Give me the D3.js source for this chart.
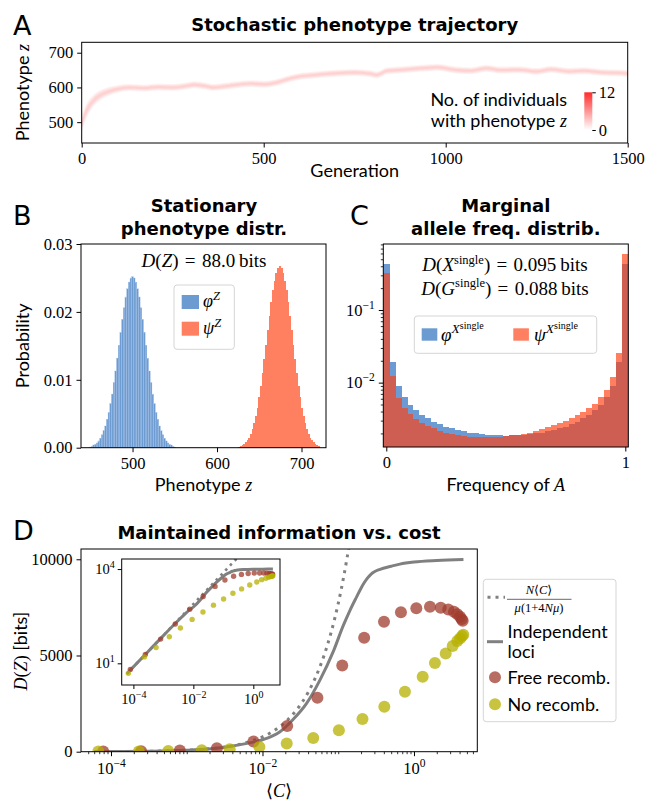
<!DOCTYPE html>
<html><head><meta charset="utf-8">
<script src="https://cdn.jsdelivr.net/npm/d3@7"></script>
<style>html,body{margin:0;padding:0;background:#fff;}</style>
</head><body>
<svg id="fig" width="647" height="802" xmlns="http://www.w3.org/2000/svg"></svg>
<script>
// ---------------- DATA ----------------
// Panel A: stochastic trajectory (centre of the density band)
const trajGen = [0,10,20,35,50,70,100,130,170,210,250,280,310,340,360,390,420,460,500,530,560,590,620,660,700,750,790,810,840,880,930,975,1000,1030,1070,1110,1150,1200,1250,1290,1340,1380,1430,1470,1500];
const trajZ   = [495,525,545,565,577,587,596,600,598,601,600,603,608,604,600,603,607,611,609,613,622,630,634,638,641,643,640,636,648,651,655,658,655,650,648,655,650,651,646,652,646,648,643,642,640];
const trajHalf= [24,22,20,17,15,13,11,10,10,10,10,10,10,10,10,10,10,10,10,10,10,10,10,10,10,10,10,10,10,10,10,10,10,10,10,10,10,10,10,10,10,10,10,10,10];
const genTicks = [0,500,1000,1500];
const phenoTicksA = [500,600,700];
const cbarTicks = [0,12];

// Panel B: stationary phenotype distributions (bins of width 2)
const phiZStart = 450;
const phiZ = [0.0001,0.0002,0.0004,0.0005,0.0007,0.0010,0.0014,0.0019,0.0025,0.0032,0.0042,0.0052,0.0065,0.0079,0.0096,0.0113,0.0132,0.0151,0.0170,0.0189,0.0206,0.0222,0.0234,0.0244,0.0250,0.0252,0.0250,0.0244,0.0234,0.0222,0.0206,0.0189,0.0170,0.0151,0.0132,0.0113,0.0096,0.0079,0.0065,0.0052,0.0042,0.0032,0.0025,0.0019,0.0014,0.0010,0.0007,0.0005,0.0004,0.0002,0.0001];
const psiZStart = 626;
const psiZ = [0.0001,0.0002,0.0004,0.0005,0.0008,0.0011,0.0015,0.0020,0.0027,0.0036,0.0047,0.0059,0.0074,0.0091,0.0110,0.0130,0.0151,0.0173,0.0194,0.0214,0.0232,0.0246,0.0258,0.0265,0.0267,0.0265,0.0258,0.0246,0.0232,0.0214,0.0194,0.0173,0.0151,0.0130,0.0110,0.0091,0.0074,0.0059,0.0047,0.0036,0.0027,0.0020,0.0015,0.0011,0.0008,0.0005,0.0004,0.0002];
const probTicks = [0,0.01,0.02,0.03];
const phenoTicksB = [500,600,700];

// Panel C: marginal allele frequency distributions (41 bins at k/40)
const phiX = [0.43,0.0195,0.0090,0.0064,0.0050,0.0042,0.0036,0.00324,0.00291,0.00268,0.00248,0.00236,0.00224,0.00214,0.00205,0.00201,0.00197,0.00193,0.0019,0.00188,0.00187,0.00188,0.0019,0.00193,0.00197,0.00201,0.00205,0.00214,0.00224,0.00236,0.00248,0.00268,0.00291,0.00324,0.0036,0.0042,0.0050,0.0064,0.0090,0.0195,0.43];
const psiX = [0.32,0.0124,0.0061,0.00445,0.00371,0.00313,0.00276,0.00254,0.00236,0.00219,0.00205,0.00197,0.00189,0.00185,0.00181,0.00179,0.00177,0.00177,0.00179,0.00181,0.00185,0.00189,0.00193,0.00197,0.00205,0.00216,0.00229,0.00243,0.00259,0.00276,0.00301,0.0033,0.0036,0.0040,0.00445,0.0051,0.0063,0.0079,0.0119,0.0259,0.59];
const freqTicks = [0,1];
const logTicksC = [0.01,0.1];

// Panel D: maintained information vs cost
const dottedC = [6e-5,1e-4,3e-4,1e-3,3e-3,0.006,0.01,0.015,0.02,0.03,0.04,0.05,0.07,0.09,0.11,0.13,0.15,0.2,0.3];
const dottedD = [4.6,7.7,23,77,231,462,770,1155,1540,2310,3080,3850,5390,6930,8470,10010,11550,15400,23100];
const indepC = [6.3e-5,1e-4,3e-4,1e-3,3e-3,6e-3,0.01,0.017,0.025,0.0382,0.0573,0.0859,0.1164,0.143,0.175,0.2,0.22,0.24,0.27,0.3,0.356,0.5,0.65,1.0,2.0,4.5];
const indepD = [4.9,7.7,23,76,222,420,620,1040,1650,2510,3720,5200,6550,7350,8050,8500,8780,9000,9220,9350,9480,9640,9750,9860,9940,9990];
const freeC = [7.9e-5,2.5e-4,8.1e-4,2.5e-3,7.6e-3,0.0212,0.0531,0.113,0.220,0.402,0.673,1.074,1.626,2.254,2.838,3.373,3.733,4.055,4.266,4.395];
const freeD = [6.4,19,59,178,530,1334,2804,4486,5919,6760,7253,7461,7529,7477,7394,7269,7150,7010,6890,6802];
const noC = [6.8e-5,2.33e-4,5.7e-4,1.58e-3,3.69e-3,9.1e-3,0.0209,0.0468,0.102,0.209,0.406,0.760,1.303,1.892,2.624,3.243,3.733,4.055,4.305,4.477];
const noD = [4.8,16,32,70,133,250,430,711,1111,1700,2336,3115,3894,4605,5109,5488,5748,5888,6007,6075];
const infoTicks = [0,5000,10000];
const costTicks = [1e-4,1e-2,1];
const insetYTicks = [10,1e4];

// ---------------- STYLE ----------------
const SERIF = "'Liberation Serif','DejaVu Serif',serif";
const SANS = "Lato,'DejaVu Sans',sans-serif";
const BOLD = "'DejaVu Sans',sans-serif";
const BLUE = "#6c9bd2", RED = "#ff4013", RED_OP = 0.67, SALMON = "#ff7f61", GRAY = "#808080";
const BROWN = "rgb(160,60,45)", YELLOW = "rgb(181,176,0)", DOT_OP = 0.75;
const EQ = "\u2004=\u2004";

const svg = d3.select("#fig");
svg.append("rect").attr("width",647).attr("height",802).attr("fill","#fff");
const defs = svg.append("defs");

function rich(parent, x, y, segs, o={}){
  const t = parent.append("text").attr("fill","#000").attr("text-anchor", o.anchor||"start");
  if(o.transform){ t.attr("transform",o.transform); } else { t.attr("x",x).attr("y",y); }
  let cur = 0;
  for(const s of segs){
    const [str,f,size,sh] = s;
    const sp = t.append("tspan").text(str).attr("font-size",size);
    sp.attr("font-family", f==="s"?SANS:(f==="b"?BOLD:SERIF));
    if(f==="i") sp.attr("font-style","italic");
    if(f==="b") sp.attr("font-weight","bold");
    const target = sh||0;
    if(target!==cur){ sp.attr("dy", target-cur); cur = target; }
  }
  return t;
}
function frame(g, x0,y0,x1,y1){
  g.append("rect").attr("x",x0).attr("y",y0).attr("width",x1-x0).attr("height",y1-y0)
   .attr("fill","none").attr("stroke","#000").attr("stroke-width",1);
}
function clip(id,x0,y0,x1,y1){
  defs.append("clipPath").attr("id",id).append("rect").attr("x",x0).attr("y",y0).attr("width",x1-x0).attr("height",y1-y0);
  return "url(#"+id+")";
}
const SUPM = "\u2212";
function axis(g, orient, scale, vals, o){
  const gen = {left:d3.axisLeft,bottom:d3.axisBottom,right:d3.axisRight}[orient];
  const ax = gen(scale).tickValues(vals).tickSizeOuter(0).tickSize(o.len==null?4.5:o.len).tickPadding(o.pad==null?4:o.pad)
    .tickFormat(o.fmt || (()=>""));
  const a = g.append("g").attr("transform", orient==="bottom" ? `translate(0,${o.at})` : `translate(${o.at},0)`).call(ax);
  a.select(".domain").remove();
  a.selectAll("line").attr("stroke","#000").attr("stroke-width",o.sw||1);
  a.selectAll("text").attr("font-family",SERIF).attr("font-size",o.fs||16.5).attr("fill","#000");
  if(o.sup){
    a.selectAll("text").each(function(d){
      const t = d3.select(this); t.text(null);
      t.append("tspan").text("10");
      const e = Math.round(Math.log10(d));
      t.append("tspan").attr("dy",o.supdy||-7).attr("font-size",o.supfs||11.5).text(e<0?SUPM+(-e):String(e));
    });
  }
  return a;
}
function minorLog(lo,hi){
  const out=[];
  for(let k=-6;k<=2;k++) for(let m=1;m<=9;m++){ const v=m*Math.pow(10,k); if(v>=lo && v<=hi) out.push(v); }
  return out;
}
function boldTitle(g,x,y,txt){
  g.append("text").attr("x",x).attr("y",y).attr("text-anchor","middle").attr("font-family",BOLD)
   .attr("font-weight","bold").attr("font-size",18).text(txt);
}
function panelLetter(g,x,y,txt){
  g.append("text").attr("x",x).attr("y",y).attr("font-family",BOLD).attr("font-size",27).text(txt);
}

// ================= PANEL A =================
const gA = svg.append("g");
const xA = d3.scaleLinear().domain([0,1500]).range([81.7,627.7]);
const yA = d3.scaleLinear().domain([440,730]).range([143,42.3]);
const clipA = clip("clipA",81.7,42.3,627.7,143);
const trajData = trajGen.map((g,i)=>({g, z:trajZ[i], h:trajHalf[i]}));
const bandG = gA.append("g").attr("clip-path",clipA);
[1.0,0.75,0.5,0.28].forEach(f=>{
  bandG.append("path").datum(trajData)
    .attr("d", d3.area().x(d=>xA(d.g)).y0(d=>yA(d.z-d.h*f)).y1(d=>yA(d.z+d.h*f)).curve(d3.curveMonotoneX))
    .attr("fill","#ff3a3a").attr("fill-opacity",0.06);
});
axis(gA,"left",yA,phenoTicksA,{at:81.7,fmt:d3.format("d")});
axis(gA,"bottom",xA,genTicks,{at:143,fmt:d3.format("d"),pad:5});
frame(gA,81.7,42.3,627.7,143);
panelLetter(gA,13,35,"A");
boldTitle(gA,354.7,31,"Stochastic phenotype trajectory");
rich(gA,0,0,[["Phenotype ","s",18],["z","i",18]],{anchor:"middle",transform:"translate(29,92.6) rotate(-90)"});
rich(gA,354.7,177,[["Generation","s",18]],{anchor:"middle"});
// colorbar
const grad = defs.append("linearGradient").attr("id","cbGrad").attr("x1",0).attr("y1",1).attr("x2",0).attr("y2",0);
grad.append("stop").attr("offset","0%").attr("stop-color","#ffffff");
grad.append("stop").attr("offset","100%").attr("stop-color","#ff2b2b");
const cbY = d3.scaleLinear().domain([0,12]).range([130,92.3]);
gA.append("rect").attr("x",584.3).attr("y",92.3).attr("width",8).attr("height",130-92.3).attr("fill","url(#cbGrad)");
axis(gA,"right",cbY,cbarTicks,{at:592.3,fmt:d3.format("d"),len:3.5,pad:3,fs:16.5});
rich(gA,567,106,[["No. of individuals","s",18]],{anchor:"end"});
rich(gA,567,127,[["with phenotype ","s",18],["z","i",18]],{anchor:"end"});

// ================= PANEL B =================
const gB = svg.append("g");
const xB = d3.scaleLinear().domain([439,729]).range([81,326]);
const yB = d3.scaleLinear().domain([0,0.03]).range([447.7,244]);
const phiZData = phiZ.map((v,i)=>({z:phiZStart+2*i, v}));
const psiZData = psiZ.map((v,i)=>({z:psiZStart+2*i, v}));
gB.append("g").selectAll("rect").data(phiZData).join("rect")
  .attr("x",d=>xB(d.z-1)).attr("width",d=>xB(d.z+1)-xB(d.z-1)).attr("y",d=>yB(d.v)).attr("height",d=>yB(0)-yB(d.v))
  .attr("fill",BLUE).attr("stroke","#a9c4e6").attr("stroke-width",0.3);
gB.append("g").attr("shape-rendering","crispEdges").selectAll("rect").data(psiZData).join("rect")
  .attr("x",d=>xB(d.z-1)).attr("width",d=>xB(d.z+1)-xB(d.z-1)+0.6).attr("y",d=>yB(d.v)).attr("height",d=>yB(0)-yB(d.v))
  .attr("fill",SALMON);
axis(gB,"left",yB,probTicks,{at:81,fmt:d3.format(".2f")});
axis(gB,"bottom",xB,phenoTicksB,{at:447.7,fmt:d3.format("d"),pad:5});
frame(gB,81,244,326,447.7);
panelLetter(gB,13,225,"B");
boldTitle(gB,204,211.5,"Stationary");
boldTitle(gB,204,235,"phenotype distr.");
rich(gB,0,0,[["Probability","s",18]],{anchor:"middle",transform:"translate(29,345.8) rotate(-90)"});
rich(gB,203.5,491,[["Phenotype ","s",18],["z","i",18]],{anchor:"middle"});
rich(gB,204,267,[["D","i",19],["(","r",19],["Z","i",19],[")"+EQ+"88.0\u2009bits","r",19]],{anchor:"middle"});
// legend B
gB.append("rect").attr("x",174).attr("y",285).attr("width",60.3).attr("height",64.3).attr("rx",3)
  .attr("fill","#fff").attr("fill-opacity",0.8).attr("stroke","#d5d5d5").attr("stroke-width",1);
gB.append("rect").attr("x",181.7).attr("y",295).attr("width",17.3).attr("height",14).attr("fill",BLUE);
gB.append("rect").attr("x",181.7).attr("y",321.7).attr("width",17.3).attr("height",14).attr("fill",SALMON);
rich(gB,203,307,[["\u03C6","i",18],["Z","i",12.5,-7]]);
rich(gB,203,333.5,[["\u03C8","i",18],["Z","i",12.5,-7]]);

// ================= PANEL C =================
const gC = svg.append("g");
const xC = d3.scaleLinear().domain([-0.0125,1.0125]).range([383.3,628.3]);
const yC = d3.scaleLog().domain([0.0013,0.81]).range([447,244]);
const clipC = clip("clipC",383.3,244,628.3,447);
const binsC = d3.range(41).map(k=>k/40);
const phiXData = binsC.map((c,i)=>({c, v:phiX[i]}));
const psiXData = binsC.map((c,i)=>({c, v:psiX[i]}));
const barsC = gC.append("g").attr("clip-path",clipC);
barsC.append("g").attr("shape-rendering","crispEdges").selectAll("rect").data(phiXData).join("rect")
  .attr("x",d=>xC(d.c-0.0125)).attr("width",d=>xC(d.c+0.0125)-xC(d.c-0.0125)+0.3).attr("y",d=>yC(d.v)).attr("height",d=>447-yC(d.v))
  .attr("fill",BLUE);
barsC.append("g").attr("opacity",RED_OP).attr("shape-rendering","crispEdges").selectAll("rect").data(psiXData).join("rect")
  .attr("x",d=>xC(d.c-0.0125)).attr("width",d=>xC(d.c+0.0125)-xC(d.c-0.0125)+0.3).attr("y",d=>yC(d.v)).attr("height",d=>447-yC(d.v))
  .attr("fill",RED);
axis(gC,"left",yC,minorLog(0.0013,0.81).filter(v=>!logTicksC.includes(v)),{at:383.3,len:2.5,sw:0.8});
axis(gC,"left",yC,logTicksC,{at:383.3,sup:true,pad:4});
axis(gC,"bottom",xC,freqTicks,{at:447,fmt:d3.format("d"),pad:5});
frame(gC,383.3,244,628.3,447);
panelLetter(gC,350,225,"C");
boldTitle(gC,505.8,211.5,"Marginal");
boldTitle(gC,505.8,235,"allele freq. distrib.");
rich(gC,505.8,491,[["Frequency of ","s",18],["A","i",18]],{anchor:"middle"});
rich(gC,505,271,[["D","i",19],["(","r",19],["X","i",19],["single","r",12.5,-7.5],[")"+EQ+"0.095\u2009bits","r",19,0]],{anchor:"middle"});
rich(gC,505,294.5,[["D","i",19],["(","r",19],["G","i",19],["single","r",12.5,-7.5],[")"+EQ+"0.088\u2009bits","r",19,0]],{anchor:"middle"});
// legend C
gC.append("rect").attr("x",414.3).attr("y",316).attr("width",182.4).attr("height",37.3).attr("rx",3)
  .attr("fill","#fff").attr("fill-opacity",0.8).attr("stroke","#d5d5d5").attr("stroke-width",1);
gC.append("rect").attr("x",421.7).attr("y",328.3).attr("width",15.6).attr("height",12.4).attr("fill",BLUE);
gC.append("rect").attr("x",513.3).attr("y",328.3).attr("width",15.6).attr("height",12.4).attr("fill",SALMON);
rich(gC,441,341,[["\u03C6","i",19],["X","i",13.5,-8],["single","r",10,-12.5]]);
rich(gC,534,341,[["\u03C8","i",19],["X","i",13.5,-8],["single","r",10,-12.5]]);

// ================= PANEL D =================
const gD = svg.append("g");
const xD = d3.scaleLog().domain([Math.pow(10,-4.396),Math.pow(10,0.836)]).range([81,477.3]);
const yD = d3.scaleLinear().domain([0,10535]).range([751.7,549]);
const clipD = clip("clipD",81,549,477.3,751.7);
const dottedData = dottedC.map((c,i)=>({c,d:dottedD[i]}));
const indepData = indepC.map((c,i)=>({c,d:indepD[i]}));
const freeData = freeC.map((c,i)=>({c,d:freeD[i]}));
const noData = noC.map((c,i)=>({c,d:noD[i]}));
const linesD = gD.append("g").attr("clip-path",clipD);
const lineD = d3.line().x(d=>xD(d.c)).y(d=>yD(d.d)).curve(d3.curveMonotoneX);
linesD.append("path").datum(dottedData).attr("d",lineD).attr("fill","none").attr("stroke",GRAY).attr("stroke-width",3).attr("stroke-dasharray","3,5");
linesD.append("path").datum(indepData).attr("d",lineD).attr("fill","none").attr("stroke",GRAY).attr("stroke-width",3);
linesD.append("g").selectAll("circle").data(freeData).join("circle")
  .attr("cx",d=>xD(d.c)).attr("cy",d=>yD(d.d)).attr("r",6).attr("fill",BROWN).attr("fill-opacity",DOT_OP);
linesD.append("g").selectAll("circle").data(noData).join("circle")
  .attr("cx",d=>xD(d.c)).attr("cy",d=>yD(d.d)).attr("r",6).attr("fill",YELLOW).attr("fill-opacity",DOT_OP);
axis(gD,"left",yD,infoTicks,{at:81,fmt:d3.format("d")});
const minorD = minorLog(Math.pow(10,-4.396),Math.pow(10,0.836)).filter(v=>!costTicks.some(t=>Math.abs(t-v)/t<1e-9));
axis(gD,"bottom",xD,minorD,{at:751.7,len:2.5,sw:0.8});
axis(gD,"bottom",xD,costTicks,{at:751.7,sup:true,pad:6});
frame(gD,81,549,477.3,751.7);
panelLetter(gD,13,540,"D");
boldTitle(gD,279,539,"Maintained information vs. cost");
rich(gD,0,0,[["D","i",18],["(","r",18],["Z","i",18],[")","r",18],[" [bits]","s",18]],{anchor:"middle",transform:"translate(27,651) rotate(-90)"});
rich(gD,279,797,[["\u27E8","r",18],["C","i",18],["\u27E9","r",18]],{anchor:"middle"});

// inset
const gI = gD.append("g");
gI.append("rect").attr("x",121.7).attr("y",559).attr("width",280-121.7).attr("height",685-559).attr("fill","#fff");
const xI = d3.scaleLog().domain([Math.pow(10,-4.39),Math.pow(10,0.89)]).range([121.7,280]);
const yI = d3.scaleLog().domain([Math.pow(10,0.31),Math.pow(10,4.32)]).range([685,559]);
const clipI = clip("clipI",121.7,559,280,685);
const linesI = gI.append("g").attr("clip-path",clipI);
const lineI = d3.line().x(d=>xI(d.c)).y(d=>yI(d.d)).curve(d3.curveMonotoneX);
linesI.append("path").datum(dottedData).attr("d",lineI).attr("fill","none").attr("stroke",GRAY).attr("stroke-width",2.6).attr("stroke-dasharray","2.6,4.2");
linesI.append("path").datum(indepData).attr("d",lineI).attr("fill","none").attr("stroke",GRAY).attr("stroke-width",3);
linesI.append("g").selectAll("circle").data(freeData).join("circle")
  .attr("cx",d=>xI(d.c)).attr("cy",d=>yI(d.d)).attr("r",2.7).attr("fill",BROWN).attr("fill-opacity",DOT_OP);
linesI.append("g").selectAll("circle").data(noData).join("circle")
  .attr("cx",d=>xI(d.c)).attr("cy",d=>yI(d.d)).attr("r",2.7).attr("fill",YELLOW).attr("fill-opacity",DOT_OP);
axis(gI,"left",yI,insetYTicks,{at:121.7,sup:true,fs:14.5,supfs:10,supdy:-6,len:4,pad:3});
axis(gI,"bottom",xI,costTicks,{at:685,sup:true,fs:14.5,supfs:10,supdy:-6,len:4,pad:5});
frame(gI,121.7,559,280,685);

// legend D
const gL = gD.append("g");
gL.append("rect").attr("x",483.3).attr("y",579.3).attr("width",616-483.3).attr("height",721.7-579.3).attr("rx",3)
  .attr("fill","#fff").attr("fill-opacity",0.8).attr("stroke","#d5d5d5").attr("stroke-width",1);
gL.append("line").attr("x1",487.5).attr("x2",505).attr("y1",597.3).attr("y2",597.3).attr("stroke",GRAY).attr("stroke-width",3).attr("stroke-dasharray","3,5");
rich(gL,539,594,[["N","i",12.5],["\u27E8","r",12.5],["C","i",12.5],["\u27E9","r",12.5]],{anchor:"middle"});
gL.append("line").attr("x1",507).attr("x2",571.5).attr("y1",599.3).attr("y2",599.3).attr("stroke","#000").attr("stroke-width",0.6);
rich(gL,539,611.5,[["\u03BC","i",12.5],["(1+4","r",12.5],["N","i",12.5],["\u03BC","i",12.5],[")","r",12.5]],{anchor:"middle"});
gL.append("line").attr("x1",487).attr("x2",503).attr("y1",641.7).attr("y2",641.7).attr("stroke",GRAY).attr("stroke-width",3);
rich(gL,507.5,637.5,[["Independent","s",18]]);
rich(gL,507.5,657.5,[["loci","s",18]]);
gL.append("circle").attr("cx",495).attr("cy",677.3).attr("r",6).attr("fill",BROWN).attr("fill-opacity",DOT_OP);
rich(gL,507.5,683.5,[["Free recomb.","s",18]]);
gL.append("circle").attr("cx",495).attr("cy",704.3).attr("r",6).attr("fill",YELLOW).attr("fill-opacity",DOT_OP);
rich(gL,507.5,710.5,[["No recomb.","s",18]]);
</script>
</body></html>
